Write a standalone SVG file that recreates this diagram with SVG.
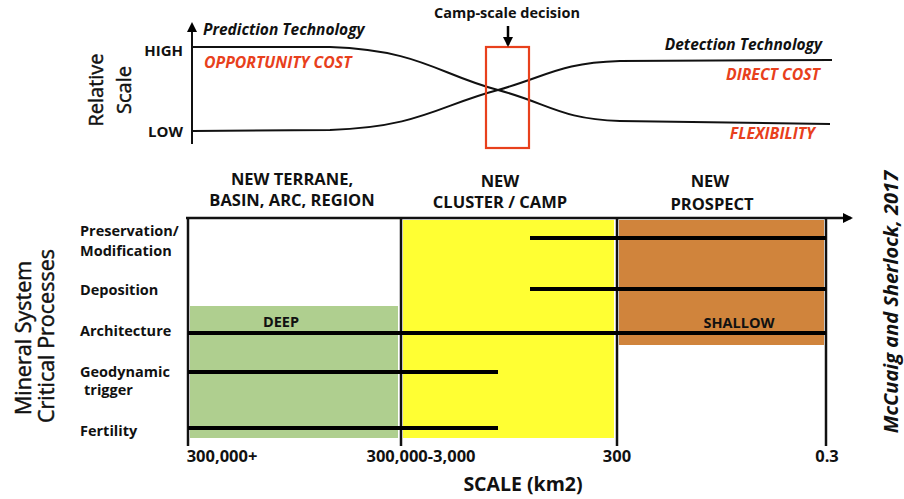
<svg xmlns="http://www.w3.org/2000/svg" width="904" height="499" viewBox="0 0 904 499">
<defs>
<style>
text{font-family:"Open Sans","Liberation Sans",sans-serif;fill:#111}
.lab{font-size:14.5px;font-weight:bold}
.hl{font-size:15px;font-weight:bold}
.hdr{font-size:16.5px;font-weight:bold;text-anchor:middle}
.tick{font-size:16.5px;font-weight:bold;text-anchor:middle}
.red{fill:#E8401C;font-style:italic;font-weight:bold;font-size:15.8px}
.it{font-style:italic;font-weight:bold;font-size:15.5px}
.big{font-size:20px;text-anchor:middle;stroke:#111;stroke-width:0.45}
.big2{font-size:21.5px;text-anchor:middle;stroke:#111;stroke-width:0.45}
.curve{fill:none;stroke:#111;stroke-width:2}
.bar{stroke:#000;stroke-width:4}
.vl{stroke:#111;stroke-width:2.5}
</style>
<marker id="ah" markerWidth="10" markerHeight="10" refX="8" refY="5" orient="auto" markerUnits="userSpaceOnUse">
<path d="M0,0 L10,5 L0,10 z" fill="#000"/>
</marker>
</defs>
<rect width="904" height="499" fill="#fff"/>

<g id="top-chart">
<line x1="192" y1="144" x2="192" y2="24" stroke="#111" stroke-width="2" marker-end="url(#ah)"/>
<text x="183" y="56" class="hl" text-anchor="end">HIGH</text>
<text x="183" y="137" class="hl" text-anchor="end">LOW</text>
<text class="big" transform="translate(103,90) rotate(-90)">Relative</text>
<text class="big" transform="translate(131,90) rotate(-90)">Scale</text>
<text x="203" y="35" class="it">Prediction Technology</text>
<text x="204" y="68" class="red">OPPORTUNITY COST</text>
<text x="822" y="50" class="it" text-anchor="end">Detection Technology</text>
<text x="820" y="80" class="red" text-anchor="end">DIRECT COST</text>
<text x="815" y="139" class="red" text-anchor="end">FLEXIBILITY</text>
</g>

<g id="curves">
<path class="curve" d="M193,47 L330,47 C420,50 440,75 498,90 C550,104 560,119 620,121 L830,124"/>
<path class="curve" d="M193,131 L330,130 C420,127 440,105 498,90 C550,75 560,63 620,61 L832,60"/>
</g>

<g id="camp-decision">
<rect x="486" y="47" width="43" height="101" fill="none" stroke="#E8401C" stroke-width="2.2"/>
<text x="507" y="18" font-size="14.5" font-weight="bold" text-anchor="middle">Camp-scale decision</text>
<line x1="508" y1="26" x2="508" y2="45" stroke="#000" stroke-width="2.5" marker-end="url(#ah)"/>
</g>

<g id="zones">
<rect x="190" y="306" width="208" height="132" fill="#AFCF8F"/>
<rect x="403" y="220" width="211" height="218" fill="#FFFF33"/>
<rect x="619" y="220" width="205" height="125" fill="#D0843C"/>
<text x="281" y="327" class="lab" text-anchor="middle">DEEP</text>
<text x="739" y="328" class="lab" text-anchor="middle">SHALLOW</text>
</g>

<g id="axes">
<line x1="186" y1="218" x2="851" y2="218" stroke="#111" stroke-width="2.5" marker-end="url(#ah)"/>
<line class="vl" x1="188" y1="218" x2="188" y2="446"/>
<line class="vl" x1="401" y1="218" x2="401" y2="446"/>
<line class="vl" x1="617" y1="218" x2="617" y2="446"/>
<line class="vl" x1="826" y1="218" x2="826" y2="446"/>
</g>

<g id="bars">
<line class="bar" x1="530" y1="238" x2="826" y2="238"/>
<line class="bar" x1="530" y1="289" x2="826" y2="289"/>
<line class="bar" x1="188" y1="333" x2="826" y2="333"/>
<line class="bar" x1="188" y1="372" x2="498" y2="372"/>
<line class="bar" x1="188" y1="428" x2="498" y2="428"/>
</g>

<g id="headers">
<text x="292" y="185" class="hdr">NEW TERRANE,</text>
<text x="292" y="206" class="hdr">BASIN, ARC, REGION</text>
<text x="500" y="187" class="hdr">NEW</text>
<text x="500" y="208" class="hdr">CLUSTER / CAMP</text>
<text x="710" y="187" class="hdr">NEW</text>
<text x="712" y="210" class="hdr">PROSPECT</text>
</g>

<g id="row-labels">
<text x="80" y="236" class="lab">Preservation/</text>
<text x="80" y="256" class="lab">Modification</text>
<text x="80" y="295" class="lab">Deposition</text>
<text x="80" y="336" class="lab">Architecture</text>
<text x="80" y="377" class="lab">Geodynamic</text>
<text x="84" y="395" class="lab">trigger</text>
<text x="80" y="436" class="lab">Fertility</text>
<text class="big2" transform="translate(31,338) rotate(-90)">Mineral System</text>
<text class="big2" transform="translate(54,336) rotate(-90)">Critical Processes</text>
</g>

<g id="scale-labels">
<text x="222" y="462" class="tick">300,000+</text>
<text x="421" y="462" class="tick">300,000-3,000</text>
<text x="617" y="462" class="tick">300</text>
<text x="827" y="462" class="tick">0.3</text>
<text x="523" y="491" font-size="19.5" font-weight="bold" text-anchor="middle">SCALE (km2)</text>
</g>

<text font-style="italic" font-weight="bold" font-size="20" text-anchor="middle" transform="translate(898,302) rotate(-90)">McCuaig and Sherlock, 2017</text>
</svg>
